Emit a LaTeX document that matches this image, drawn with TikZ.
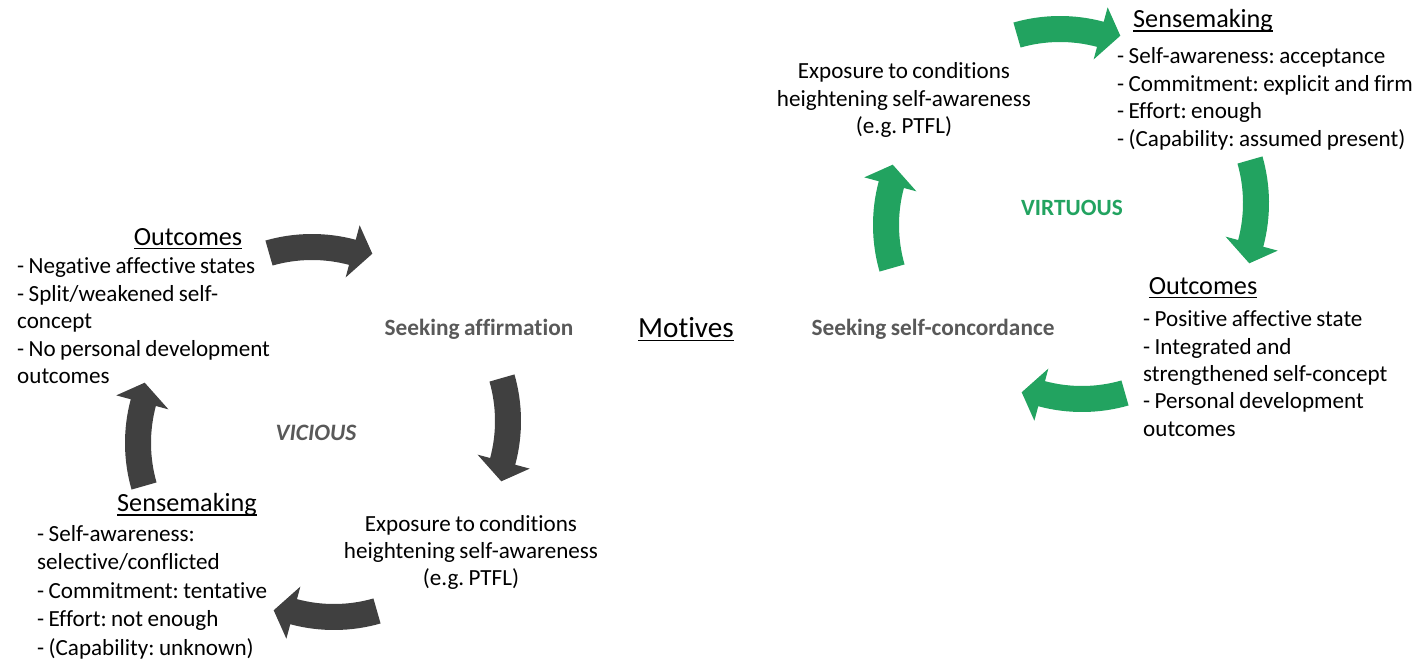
\documentclass[tikz,border=0pt]{standalone}
\usepackage{fontspec}
\setmainfont{Carlito}[Ligatures={NoCommon}]
\frenchspacing
\definecolor{arrowdark}{RGB}{64,64,64}
\definecolor{arrowgreen}{RGB}{34,163,96}
\definecolor{labelgray}{RGB}{89,89,89}
% underline that sits just under the baseline and crosses descenders
\newcommand\ulword[1]{{\setbox0\hbox{#1}\rlap{\rule[-4.4pt]{\wd0}{1.5pt}}\box0}}
% tighter word spaces for the list text
\newcommand\tightwords{\spaceskip=0.19em\relax}
% one curved block arrow of a cycle, drawn around the cycle centre
\newcommand\cyclearrow[1]{%
  \begin{scope}[shift={(-11,29)}]
    \fill[#1] (106:169) arc[start angle=106,end angle=75,radius=169]
      -- (75:184) -- (68:161) -- (75:130) -- (75:143)
      arc[start angle=75,end angle=106,radius=143] -- cycle;
  \end{scope}}
\tikzset{
  body/.style={inner sep=0pt,anchor=base west,font=\fontsize{23.1}{27}\selectfont\tightwords},
  bodyc/.style={body,anchor=base},
  head/.style={inner sep=0pt,anchor=base,font=\fontsize{26.2}{30}\selectfont},
  seek/.style={inner sep=0pt,anchor=base,text=labelgray,font=\fontsize{23.3}{27}\selectfont\bfseries\tightwords},
}
\begin{document}
\begin{tikzpicture}[x=1pt,y=1pt]
\useasboundingbox (0,0) rectangle (1417,-661);

% vicious cycle arrows
\foreach \r in {0,-90,-180,-270}{
  \begin{scope}[shift={(323,-432)},rotate=\r]\cyclearrow{arrowdark}\end{scope}}
% virtuous cycle arrows
\foreach \r in {0,-90,-180,-270}{
  \begin{scope}[shift={(1071,-214)},rotate=\r]\cyclearrow{arrowgreen}\end{scope}}

% centre
\node[inner sep=0pt,anchor=base,font=\fontsize{29.2}{34}\selectfont] (motives) at (686,-337) {\ulword{Motives}};

% left cycle
\node[seek] (seekaff) at (479,-335) {Seeking affirmation};
\node[inner sep=0pt,anchor=base,text=labelgray,font=\fontsize{23.5}{27}\selectfont\bfseries\itshape] (vicious) at (316,-440) {VICIOUS};

\node[head] (outL) at (188,-245) {\ulword{Outcomes}};
\foreach \t [count=\i] in {- Negative affective states,- Split/weakened self-,concept,- No personal development,outcomes}
  \node[body,name=outL\i] at (17,{-273.5-(\i-1)*27.5}) {\t};

\node[head] (senL) at (187,-511.5) {\ulword{Sensemaking}};
\foreach \t [count=\i] in {- Self-awareness:,selective/conflicted,- Commitment: tentative,- Effort: not enough,- (Capability: unknown)}
  \node[body,name=senL\i] at (37,{-541.5-(\i-1)*28.4}) {\t};

\foreach \t [count=\i] in {Exposure to conditions,heightening self-awareness,(e.g. PTFL)}
  \node[bodyc,name=expL\i] at (471,{-531-(\i-1)*27.3}) {\t};

% right cycle
\node[seek] (seekcon) at (933,-335) {Seeking self-concordance};
\node[inner sep=0pt,anchor=base,text=arrowgreen,font=\fontsize{23.3}{27}\selectfont\bfseries] (virtuous) at (1072,-215) {VIRTUOUS};

\foreach \t [count=\i] in {Exposure to conditions,heightening self-awareness,(e.g. PTFL)}
  \node[bodyc,name=expR\i] at (904,{-79-(\i-1)*27.3}) {\t};

\node[head] (senR) at (1203,-27.3) {\ulword{Sensemaking}};
\foreach \t [count=\i] in {- Self-awareness: acceptance,- Commitment: explicit and firm,- Effort: enough,- (Capability: assumed present)}
  \node[body,name=senR\i] at (1117,{-63.3-(\i-1)*27.8}) {\t};

\node[head] (outR) at (1203,-294) {\ulword{Outcomes}};
\foreach \t [count=\i] in {- Positive affective state,- Integrated and,strengthened self-concept,- Personal development,outcomes}
  \node[body,name=outR\i] at (1143,{-326.7-(\i-1)*27.4}) {\t};
\end{tikzpicture}
\end{document}
